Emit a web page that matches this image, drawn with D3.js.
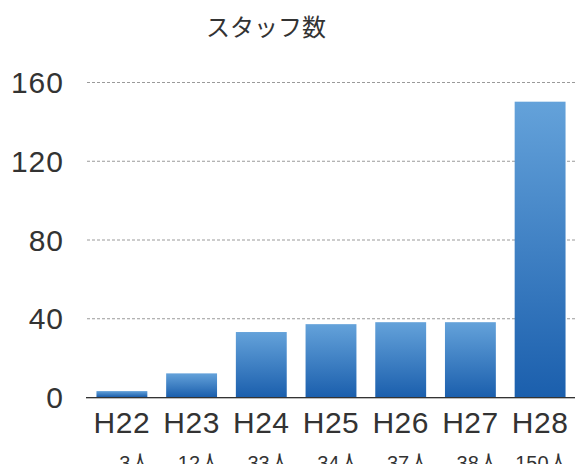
<!DOCTYPE html>
<html>
<head>
<meta charset="utf-8">
<script src="https://cdn.jsdelivr.net/npm/d3@7"></script>
<style>
  html, body { margin: 0; padding: 0; background: #fff; overflow: hidden; }
  text { font-family: "Liberation Sans", "Noto Sans CJK JP", sans-serif; fill: #333; }
</style>
</head>
<body>
<svg id="canvas" width="575" height="464"></svg>
<script>
const years = ["H22", "H23", "H24", "H25", "H26", "H27", "H28"]
const staff = [3, 12, 33, 37, 38, 38, 150]
const staffLabels = ["3人", "12人", "33人", "34人", "37人", "38人", "150人"]
const yTicks = [0, 40, 80, 120, 160]

const svg = d3.select("#canvas")
const width = 575
const height = 464

const x = d3.scaleBand().domain(years).range([86, 576]).paddingInner(0.27).paddingOuter(0.15)
const y = d3.scaleLinear().domain([0, 160]).range([397, 82])

// gradient, light on top dark at the bottom, per bar
const defs = svg.append("defs")
const grad = defs.append("linearGradient")
  .attr("id", "barGrad")
  .attr("x1", 0).attr("y1", 0).attr("x2", 0).attr("y2", 1)
grad.append("stop").attr("offset", "0%").attr("stop-color", "#64a2da")
grad.append("stop").attr("offset", "100%").attr("stop-color", "#1b5fad")

svg.append("text")
  .attr("x", 266)
  .attr("y", 36)
  .attr("text-anchor", "middle")
  .style("font-family", "'Noto Sans CJK JP', sans-serif")
  .style("font-size", "24px")
  .text("スタッフ数")

// grid
svg.append("g")
  .selectAll("line")
  .data(yTicks.filter(t => t > 0))
  .enter().append("line")
  .attr("x1", 87).attr("x2", width)
  .attr("y1", d => y(d) + 0.5).attr("y2", d => y(d) + 0.5)
  .attr("stroke", "#9a9a9a")
  .attr("stroke-width", 1)
  .attr("stroke-dasharray", "3,2")

// y labels
svg.append("g")
  .selectAll("text")
  .data(yTicks)
  .enter().append("text")
  .attr("x", 64)
  .attr("y", d => y(d) + 11)
  .attr("text-anchor", "end")
  .style("font-size", "30px")
  .style("letter-spacing", "1px")
  .text(d => d)

// bars
svg.append("g")
  .selectAll("rect")
  .data(staff)
  .enter().append("rect")
  .attr("x", (d, i) => x(years[i]))
  .attr("width", x.bandwidth())
  .attr("y", d => y(d))
  .attr("height", d => y(0) - y(d))
  .attr("fill", "url(#barGrad)")

// baseline
svg.append("line")
  .attr("x1", 86).attr("x2", width)
  .attr("y1", y(0) + 0.5).attr("y2", y(0) + 0.5)
  .attr("stroke", "#333")
svg.append("line")
  .attr("x1", 86).attr("x2", width)
  .attr("y1", y(0) + 1.5).attr("y2", y(0) + 1.5)
  .attr("stroke", "#bbb")

// category labels
svg.append("g")
  .selectAll("text")
  .data(years)
  .enter().append("text")
  .attr("x", d => x(d) + x.bandwidth() / 2)
  .attr("y", 433)
  .attr("text-anchor", "middle")
  .style("font-size", "30px")
  .style("letter-spacing", "0.5px")
  .text(d => d)

// staff counts under the chart (cut off by the window)
svg.append("g")
  .selectAll("text")
  .data(staffLabels)
  .enter().append("text")
  .attr("x", (d, i) => x(years[i]) + x.bandwidth() + 3)
  .attr("y", 470)
  .attr("text-anchor", "end")
  .style("font-size", "20px")
  .text(d => d)
</script>
</body>
</html>
